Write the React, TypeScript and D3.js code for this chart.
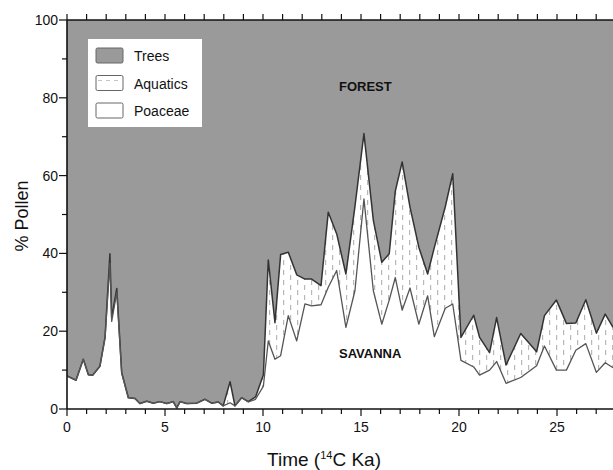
import React from "react";
import * as d3 from "d3";

const age = [0, 0.46, 0.83, 1.09, 1.31, 1.68, 1.94, 2.19, 2.28, 2.54, 2.79, 3.13, 3.47, 3.72, 4.07, 4.4, 4.74, 5.09, 5.42, 5.6, 5.77, 6.1, 6.62, 7.04, 7.38, 7.72, 7.97, 8.32, 8.57, 8.91, 9.25, 9.62, 10.02, 10.27, 10.61, 10.9, 11.29, 11.72, 12.14, 12.48, 12.96, 13.33, 13.76, 14.23, 14.69, 15.15, 15.63, 16.06, 16.44, 16.75, 17.1, 17.5, 17.95, 18.4, 18.74, 19.3, 19.68, 20.1, 20.75, 21.05, 21.56, 21.92, 22.4, 23.15, 23.96, 24.36, 24.97, 25.48, 25.96, 26.47, 27.01, 27.46, 27.86];

const poaceae = [8.5, 7.4, 12.8, 8.8, 8.7, 11, 18.2, 37.5, 22.5, 30, 9.2, 2.9, 2.7, 1.4, 2, 1.5, 1.9, 1.4, 1.9, 0.3, 1.9, 1.4, 1.5, 2.5, 1.5, 1.8, 0.8, 1.6, 0.8, 2.9, 1.8, 2.5, 5.9, 17.5, 12.8, 13.7, 24, 17.5, 27, 26.5, 26.8, 31.3, 35.6, 21, 30.4, 54, 30.4, 21.8, 28, 33.8, 25.4, 31.1, 21.8, 29.1, 18.6, 25.9, 27, 12.5, 10.8, 8.7, 10, 12.2, 6.6, 8.1, 11.1, 16.2, 10, 10, 15.1, 16.8, 9.4, 11.9, 10.6];

const aquatics = [0, 0, 0, 0, 0, 0, 0.2, 2.4, 1, 1, 0.2, 0, 0, 0, 0, 0, 0, 0, 0, 0, 0, 0, 0, 0, 0, 0, 0, 5.4, 0, 0, 0.1, 0.6, 2.9, 20.8, 9.4, 26, 16.3, 17, 6.4, 6.9, 4.9, 19.3, 9.4, 13.7, 21.6, 16.8, 18.1, 15.9, 11.9, 22.2, 38.1, 20.8, 19.8, 5.6, 22.9, 26.1, 33.5, 5.9, 13.3, 9.7, 4.5, 11.3, 4.7, 11.3, 3.6, 7.8, 18, 12, 7, 11.3, 10.1, 12.5, 10.4];

const xTicks = [0, 5, 10, 15, 20, 25];
const yTicks = [0, 20, 40, 60, 80, 100];
const legendItems = ["Trees", "Aquatics", "Poaceae"];

const FONT = "'Liberation Sans', Arial, Helvetica, sans-serif";

export default function App() {
  const W = 613, H = 470;
  const x = d3.scaleLinear().domain([0, 28]).range([67, 615.8]);
  const y = d3.scaleLinear().domain([0, 100]).range([409, 20]);

  const rows = age.map((a, i) => ({
    age: a,
    poaceae: poaceae[i],
    aquatics: aquatics[i],
    trees: 100 - poaceae[i] - aquatics[i],
  }));
  const stack = d3.stack<any>().keys(["poaceae", "aquatics", "trees"]);
  const series = stack(rows);

  const area = d3
    .area<any>()
    .x((d) => x(d.data.age))
    .y0((d) => y(d[0]))
    .y1((d) => y(d[1]));
  const topLine = d3
    .line<any>()
    .x((d) => x(d.data.age))
    .y((d) => y(d[1]));

  const fills = ["#ffffff", "url(#aqpat)", "#9a9a9a"];

  const minorX = d3.range(0, 28, 1);
  const minorY = d3.range(0, 101, 10);

  return (
    <svg
      width={W}
      height={H}
      style={{ position: "absolute", left: 0, top: 0, background: "#fff" }}
      fontFamily={FONT}
    >
      <defs>
        <pattern id="aqpat" width={14} height={10} patternUnits="userSpaceOnUse">
          <rect width={14} height={10} fill="#fff" />
          <rect x={3} y={0} width={1.2} height={5} fill="#b8b8b8" />
          <rect x={10} y={5} width={1.2} height={5} fill="#b8b8b8" />
        </pattern>
        <clipPath id="plotclip">
          <rect x={67} y={20} width={W - 67} height={389} />
        </clipPath>
      </defs>

      <g clipPath="url(#plotclip)">
        {series.map((s, i) => (
          <path key={s.key} d={area(s) || ""} fill={fills[i]} stroke="none" />
        ))}
        <path d={topLine(series[1]) || ""} fill="none" stroke="#333" strokeWidth={1.5} strokeLinejoin="round" />
        <path d={topLine(series[0]) || ""} fill="none" stroke="#555" strokeWidth={1.3} strokeLinejoin="round" />
      </g>

      {/* frame */}
      <line x1={67} x2={W} y1={20} y2={20} stroke="#111" strokeWidth={1.6} />
      <line x1={67} x2={W} y1={409} y2={409} stroke="#111" strokeWidth={1.6} />
      <line x1={67} x2={67} y1={20} y2={409} stroke="#111" strokeWidth={1.6} />

      {/* x ticks */}
      {minorX.map((t) => (
        <g key={"xt" + t}>
          <line x1={x(t)} x2={x(t)} y1={409} y2={xTicks.includes(t) ? 416 : 414} stroke="#111" strokeWidth={1.2} />
          <line x1={x(t)} x2={x(t)} y1={20} y2={14} stroke="#111" strokeWidth={1.2} />
        </g>
      ))}
      {xTicks.map((t) => (
        <text key={"xl" + t} x={x(t)} y={432} fontSize={14} textAnchor="middle" fill="#111">
          {t}
        </text>
      ))}

      {/* y ticks */}
      {minorY.map((t) => (
        <line key={"yt" + t} x1={67} x2={yTicks.includes(t) ? 59 : 62} y1={y(t)} y2={y(t)} stroke="#111" strokeWidth={1.2} />
      ))}
      {yTicks.map((t) => (
        <text key={"yl" + t} x={58} y={y(t) + 5} fontSize={14} textAnchor="end" fill="#111">
          {t}
        </text>
      ))}

      {/* axis titles */}
      <text
        transform="translate(28,216) rotate(-90)"
        textAnchor="middle"
        fontSize={18}
        fill="#111"
      >
        % Pollen
      </text>
      <text x={324} y={466} textAnchor="middle" fontSize={19} fill="#111">
        Time (<tspan fontSize={11} dy={-7}>14</tspan>
        <tspan dy={7}>C Ka)</tspan>
      </text>

      {/* region labels */}
      <text x={339} y={91} fontSize={13} fontWeight="bold" fill="#111">FOREST</text>
      <text x={339} y={358} fontSize={13} fontWeight="bold" fill="#111">SAVANNA</text>

      {/* legend */}
      <rect x={88} y={39} width={114} height={88} fill="#fff" />
      {legendItems.map((name, i) => {
        const sy = 48 + i * 27.5;
        return (
          <g key={name}>
            <rect
              x={96}
              y={sy}
              width={27}
              height={15}
              rx={1.5}
              fill={i === 0 ? "#9a9a9a" : "#fff"}
              stroke="#666"
              strokeWidth={1}
            />
            {i === 1 && (
              <line x1={98} x2={122} y1={sy + 5} y2={sy + 5} stroke="#c4c4c4" strokeWidth={1} strokeDasharray="4,4" />
            )}
            <text x={134} y={sy + 13} fontSize={14} fill="#111">
              {name}
            </text>
          </g>
        );
      })}
    </svg>
  );
}
